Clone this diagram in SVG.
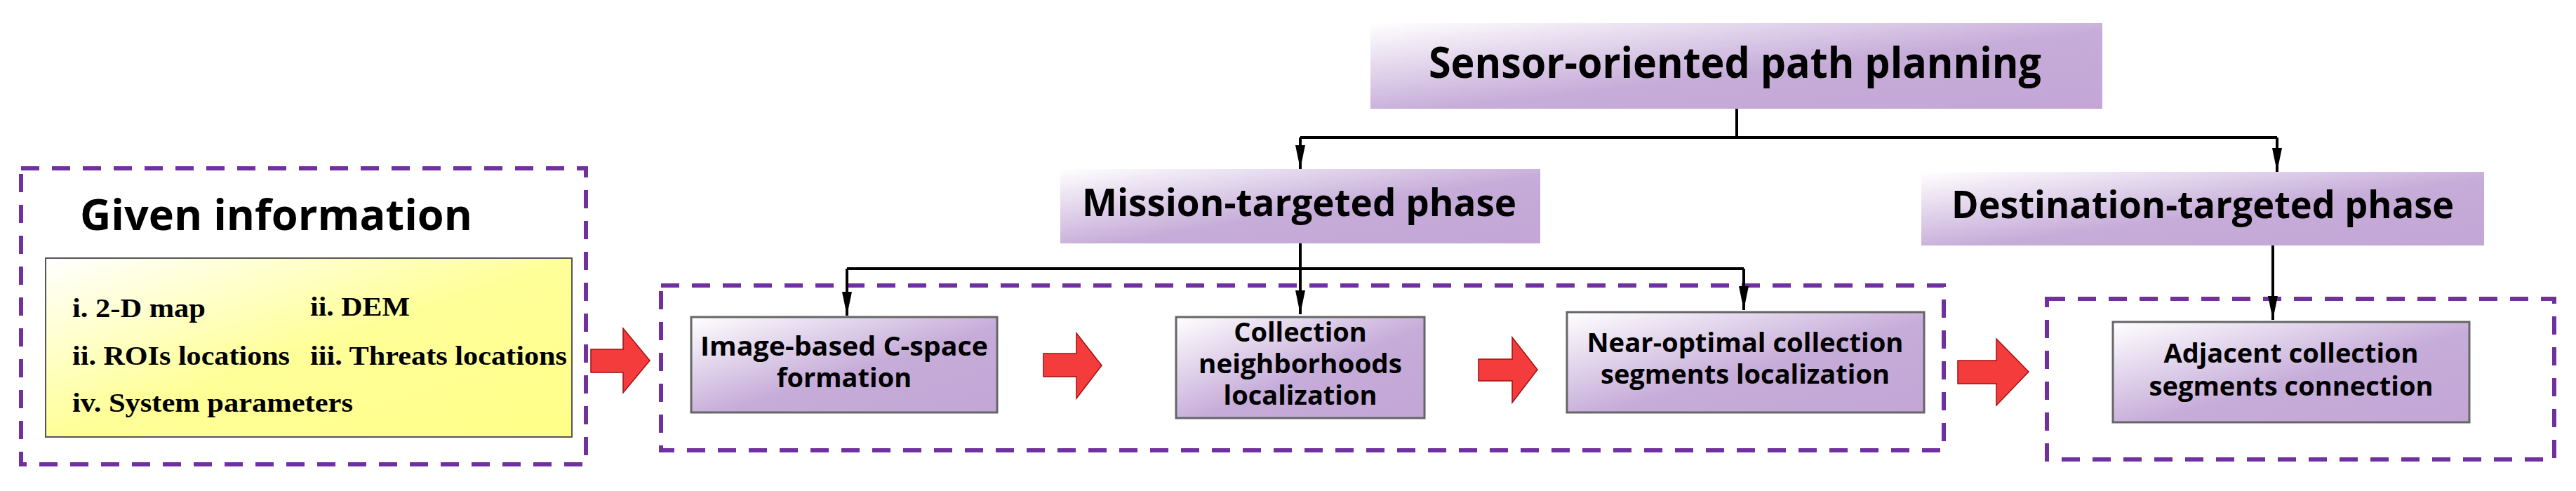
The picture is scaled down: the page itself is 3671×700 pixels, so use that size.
<svg xmlns="http://www.w3.org/2000/svg" width="3671" height="700" viewBox="0 0 3671 700">
<defs>
<linearGradient id="pg" x1="0" y1="0" x2="1" y2="1"><stop offset="0" stop-color="#ffffff"/><stop offset="0.55" stop-color="#c6acd9"/><stop offset="1" stop-color="#c3a6d6"/></linearGradient>
<linearGradient id="yg" x1="0" y1="0" x2="1" y2="1"><stop offset="0" stop-color="#ffffff"/><stop offset="0.5" stop-color="#ffff99"/><stop offset="1" stop-color="#ffff88"/></linearGradient>
<marker id="ah" markerWidth="34" markerHeight="14" refX="34" refY="7" orient="auto" markerUnits="userSpaceOnUse" viewBox="0 0 34 14"><path d="M0,0 L34,7 L0,14 Z" fill="#000"/></marker>
</defs>
<style>
.dash{fill:none;stroke:#7030a0;stroke-width:6;stroke-dasharray:26 18}
.hd{fill:url(#pg)}
.bx{fill:url(#pg);stroke:#666;stroke-width:3}
.t{font-family:"Open Sans","Liberation Sans",sans-serif;font-weight:bold;fill:#000}
.tm{font-family:"Liberation Serif",serif;font-weight:bold;fill:#000;font-size:38px}
.c{fill:none;stroke:#000;stroke-width:4}
.ra{fill:#f53c3c;stroke:#a01010;stroke-width:1.5}
</style>
<g id="given">
<rect class="dash" x="30" y="240" width="805" height="422"/>
<text class="t" x="114" y="328" font-size="60" textLength="559" lengthAdjust="spacingAndGlyphs">Given information</text>
<rect x="65" y="368" width="750" height="255" fill="url(#yg)" stroke="#555" stroke-width="2"/>
<text class="tm" x="103" y="452" textLength="190" lengthAdjust="spacingAndGlyphs">i. 2-D map</text>
<text class="tm" x="442" y="450" textLength="142" lengthAdjust="spacingAndGlyphs">ii. DEM</text>
<text class="tm" x="103" y="520" textLength="310" lengthAdjust="spacingAndGlyphs">ii. ROIs locations</text>
<text class="tm" x="442" y="520" textLength="366" lengthAdjust="spacingAndGlyphs">iii. Threats locations</text>
<text class="tm" x="103" y="587" textLength="400" lengthAdjust="spacingAndGlyphs">iv. System parameters</text>
</g>
<g id="sensor"><rect class="hd" x="1953" y="33" width="1043" height="122"/>
<text class="t" x="2036" y="111" font-size="60" textLength="873" lengthAdjust="spacingAndGlyphs">Sensor-oriented path planning</text></g>
<g id="mission"><rect class="hd" x="1511" y="241" width="684" height="106"/>
<text class="t" x="1542" y="308" font-size="54" textLength="619" lengthAdjust="spacingAndGlyphs">Mission-targeted phase</text></g>
<g id="destination"><rect class="hd" x="2738" y="245" width="802" height="105"/>
<text class="t" x="2781" y="311" font-size="54" textLength="716" lengthAdjust="spacingAndGlyphs">Destination-targeted phase</text></g>
<g id="missionGroup"><rect class="dash" x="942" y="407" width="1828" height="235"/></g>
<g id="destGroup"><rect class="dash" x="2917" y="426" width="723" height="229"/></g>
<g id="box1"><rect class="bx" x="985" y="452" width="436" height="136"/>
<text class="t" x="1203" y="507" font-size="38" text-anchor="middle" textLength="410" lengthAdjust="spacingAndGlyphs">Image-based C-space</text>
<text class="t" x="1203" y="552" font-size="38" text-anchor="middle">formation</text></g>
<g id="box2"><rect class="bx" x="1676" y="452" width="354" height="144"/>
<text class="t" x="1853" y="487" font-size="38" text-anchor="middle">Collection</text>
<text class="t" x="1853" y="532" font-size="38" text-anchor="middle" textLength="290" lengthAdjust="spacingAndGlyphs">neighborhoods</text>
<text class="t" x="1853" y="577" font-size="38" text-anchor="middle">localization</text></g>
<g id="box3"><rect class="bx" x="2233" y="445" width="509" height="143"/>
<text class="t" x="2487" y="502" font-size="38" text-anchor="middle" textLength="451" lengthAdjust="spacingAndGlyphs">Near-optimal collection</text>
<text class="t" x="2487" y="547" font-size="38" text-anchor="middle" textLength="412" lengthAdjust="spacingAndGlyphs">segments localization</text></g>
<g id="box4"><rect class="bx" x="3011" y="459" width="508" height="143"/>
<text class="t" x="3265" y="517" font-size="38" text-anchor="middle" textLength="363" lengthAdjust="spacingAndGlyphs">Adjacent collection</text>
<text class="t" x="3265" y="564" font-size="38" text-anchor="middle" textLength="405" lengthAdjust="spacingAndGlyphs">segments connection</text></g>
<g id="connectors">
<path class="c" d="M2475,155 V196"/>
<path class="c" d="M1853,196 H3245" stroke-width="5"/>
<path class="c" d="M1853,196 V241" marker-end="url(#ah)" stroke-width="3"/>
<path class="c" d="M3245,196 V245" marker-end="url(#ah)" stroke-width="3"/>
<path class="c" d="M1853,347 V448" marker-end="url(#ah)" stroke-width="3"/>
<path class="c" d="M1207,383 H2485" stroke-width="6"/>
<path class="c" d="M1207,383 V450" marker-end="url(#ah)" stroke-width="3"/>
<path class="c" d="M2485,383 V442" marker-end="url(#ah)" stroke-width="3"/>
<path class="c" d="M3239,350 V456" marker-end="url(#ah)" stroke-width="3"/>
<path class="ra" d="M842,498 H888 V468 L926,514 L888,560 V531 H842 Z"/>
<path class="ra" d="M1487,504 H1534 V475 L1570,521 L1534,568 V537 H1487 Z"/>
<path class="ra" d="M2107,512 H2155 V481 L2191,527 L2155,574 V543 H2107 Z"/>
<path class="ra" d="M2790,514 H2845 V483 L2891,530 L2845,578 V547 H2790 Z"/>
</g>
</svg>
